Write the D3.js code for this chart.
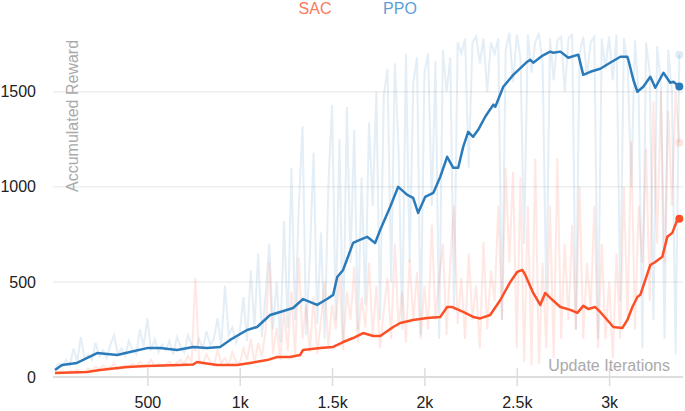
<!DOCTYPE html>
<html>
<head>
<meta charset="utf-8">
<script src="https://cdn.jsdelivr.net/npm/d3@7"></script>
<style>
  body { margin: 0; background: #fff; }
  svg { display: block; font-family: "Liberation Sans", Arial, Helvetica, sans-serif; }
</style>
</head>
<body>
<div id="chart"></div>
<script>
// chart size
const width = 685;
const height = 411;

// series names and tick labels
const seriesNames = ["SAC", "PPO"];
const yTicks = [0, 500, 1000, 1500];
const yTickLabels = ["0", "500", "1000", "1500"];
const xTicks = [500, 1000, 1500, 2000, 2500, 3000];
const xTickLabels = ["500", "1k", "1.5k", "2k", "2.5k", "3k"];

// smoothed curves: [iteration, reward]
const ppoSmooth = [
  [0,37],[38,63],[119,74],[228,126],[336,116],[406,131],[498,152],[569,152],[661,142],[748,158],
  [823,153],[894,158],[948,195],[1040,247],[1094,263],[1165,326],[1219,342],[1289,363],[1343,410],[1419,379],
  [1473,410],[1506,432],[1528,526],[1560,563],[1614,705],[1650,721],[1690,737],[1733,705],[1761,774],[1815,895],
  [1858,1000],[1907,958],[1939,942],[1966,863],[2004,947],[2048,968],[2086,1053],[2123,1158],[2156,1100],[2183,1100],
  [2210,1210],[2237,1289],[2264,1263],[2291,1300],[2330,1370],[2373,1432],[2384,1421],[2427,1526],[2481,1589],[2557,1658],
  [2573,1668],[2589,1653],[2640,1690],[2681,1711],[2698,1705],[2736,1711],[2779,1679],[2833,1695],[2860,1589],[2898,1605],
  [2952,1621],[3010,1655],[3061,1684],[3099,1684],[3104,1668],[3131,1563],[3153,1500],[3185,1526],[3223,1579],[3250,1521],
  [3294,1600],[3331,1547],[3348,1553],[3380,1527]
];
const sacSmooth = [
  [0,21],[173,26],[244,37],[390,53],[498,58],[677,63],[748,66],[769,79],[802,74],[878,63],
  [986,63],[1056,74],[1148,89],[1203,105],[1273,105],[1327,116],[1343,142],[1436,152],[1506,158],[1560,184],
  [1614,205],[1668,231],[1723,216],[1761,216],[1831,263],[1869,284],[1939,300],[2015,310],[2086,316],[2123,368],
  [2151,368],[2210,342],[2264,316],[2302,308],[2356,326],[2411,405],[2465,500],[2503,553],[2530,563],[2546,537],
  [2589,442],[2627,379],[2654,442],[2681,416],[2736,368],[2790,353],[2828,337],[2860,374],[2887,358],[2925,368],
  [2952,342],[3023,263],[3072,258],[3099,300],[3126,368],[3153,421],[3169,432],[3223,589],[3250,605],[3288,632],
  [3315,737],[3342,758],[3369,826],[3380,832]
];

// raw (unsmoothed) rewards, one value every 20 iterations
const rawStep = 20;
const ppoRaw = [
  40,70,55,90,60,150,80,210,95,120,
  90,180,110,140,100,170,220,120,150,110,
  190,140,120,250,160,310,140,200,130,170,
  140,190,120,210,160,130,220,170,140,200,
  150,240,170,200,310,160,480,220,260,180,
  230,420,190,560,260,650,210,430,700,250,
  500,180,820,260,1100,300,900,1320,220,640,
  1180,280,760,200,1000,1430,300,1250,180,1420,
  600,1300,250,1050,380,1340,900,1500,300,1480,
  1620,500,1650,1200,250,1700,600,1550,1680,220,
  1600,1700,900,1660,200,1720,1500,1680,350,1760,
  1700,1780,1100,1760,1790,1650,1780,1500,1760,1700,
  1780,300,1720,1810,1550,1800,1680,700,1800,1600,
  1760,1810,1650,400,1780,1560,1770,1790,1500,1780,
  1800,250,1700,1790,1580,1760,1790,200,1780,1620,
  1790,1560,1800,400,1780,1650,1000,1770,1480,150,
  1760,1600,300,1740,1550,200,1720,1500,120,1695
];
const sacRaw = [
  20,25,30,22,35,28,40,25,30,45,
  35,55,40,60,45,50,70,40,55,60,
  50,70,55,80,60,65,90,55,70,60,
  65,80,60,75,90,70,110,80,520,90,
  70,120,80,60,140,75,100,65,130,80,
  70,150,90,200,75,180,110,240,600,120,
  260,90,350,140,450,110,630,200,380,130,
  420,120,300,500,160,380,250,550,140,450,
  300,580,180,420,260,600,220,480,150,350,
  520,200,700,260,450,180,620,300,550,200,
  480,250,800,300,520,700,220,600,900,280,
  520,200,650,300,480,150,710,250,560,400,
  900,300,1100,600,1080,150,1050,80,900,60,
  1150,70,600,150,900,100,1150,200,700,300,
  800,250,1000,200,600,350,900,150,700,200,
  500,100,650,200,1000,300,1240,250,900,600,
  1200,400,1450,700,1500,600,1400,900,1500,1232
];

const colors = { PPO: "#2b7bba", SAC: "#fc4f26" };
const legendColors = { PPO: "#5a9fd5", SAC: "#fa7a5c" };

const svg = d3.select("#chart")
  .append("svg")
  .attr("width", width)
  .attr("height", height);

// scales
const x = d3.scaleLinear().domain([0, 3400]).range([55, 683]);
const y = d3.scaleLinear().domain([0, 1830]).range([377, 29]);

// grid lines
svg.append("g")
  .selectAll("line")
  .data(yTicks.filter(d => d > 0))
  .enter()
  .append("line")
  .attr("x1", 53)
  .attr("x2", 683)
  .attr("y1", d => y(d))
  .attr("y2", d => y(d))
  .attr("stroke", "#eeeeee")
  .attr("stroke-width", 1.5);

// y-axis labels
const yAxis = svg.append("g")
  .attr("transform", "translate(53,0)")
  .call(
    d3.axisLeft(y)
      .tickValues(yTicks)
      .tickFormat((d, i) => yTickLabels[i])
      .tickSize(0)
      .tickPadding(17)
  );
yAxis.select(".domain").remove();
yAxis.selectAll("text")
  .attr("font-size", "16px")
  .attr("font-family", "Liberation Sans, Arial, sans-serif")
  .attr("fill", "#222");

// x-axis
const xAxis = svg.append("g")
  .attr("transform", "translate(0," + y(0) + ")")
  .call(
    d3.axisBottom(x)
      .tickValues(xTicks)
      .tickFormat((d, i) => xTickLabels[i])
      .tickSize(9)
      .tickPadding(11)
  );
xAxis.select(".domain").remove();
xAxis.append("line")
  .attr("x1", 53)
  .attr("x2", 683)
  .attr("stroke", "#dddddd")
  .attr("stroke-width", 2);
xAxis.selectAll(".tick line")
  .attr("y1", -9)
  .attr("stroke", "#dddddd")
  .attr("stroke-width", 1.5);
xAxis.selectAll("text")
  .attr("font-size", "16px")
  .attr("font-family", "Liberation Sans, Arial, sans-serif")
  .attr("fill", "#222");

// raw lines
const rawLine = d3.line()
  .x((d, i) => x(i * rawStep))
  .y(d => y(d));

svg.append("path")
  .datum(ppoRaw)
  .attr("fill", "none")
  .attr("stroke", colors.PPO)
  .attr("stroke-opacity", 0.13)
  .attr("stroke-width", 2)
  .attr("d", rawLine);

svg.append("path")
  .datum(sacRaw)
  .attr("fill", "none")
  .attr("stroke", colors.SAC)
  .attr("stroke-opacity", 0.13)
  .attr("stroke-width", 2)
  .attr("d", rawLine);

// smoothed lines
const smoothLine = d3.line()
  .x(d => x(d[0]))
  .y(d => y(d[1]));

svg.append("path")
  .datum(ppoSmooth)
  .attr("fill", "none")
  .attr("stroke", colors.PPO)
  .attr("stroke-width", 2.5)
  .attr("stroke-linejoin", "round")
  .attr("d", smoothLine);

svg.append("path")
  .datum(sacSmooth)
  .attr("fill", "none")
  .attr("stroke", colors.SAC)
  .attr("stroke-width", 2.5)
  .attr("stroke-linejoin", "round")
  .attr("d", smoothLine);

// end markers
const lastRawX = (ppoRaw.length - 1) * rawStep;
svg.append("circle")
  .attr("cx", x(lastRawX))
  .attr("cy", y(ppoRaw[ppoRaw.length - 1]))
  .attr("r", 4)
  .attr("fill", colors.PPO)
  .attr("fill-opacity", 0.15);
svg.append("circle")
  .attr("cx", x(lastRawX))
  .attr("cy", y(sacRaw[sacRaw.length - 1]))
  .attr("r", 4)
  .attr("fill", colors.SAC)
  .attr("fill-opacity", 0.15);

const ppoLast = ppoSmooth[ppoSmooth.length - 1];
const sacLast = sacSmooth[sacSmooth.length - 1];
svg.append("circle")
  .attr("cx", x(ppoLast[0]))
  .attr("cy", y(ppoLast[1]))
  .attr("r", 4)
  .attr("fill", colors.PPO);
svg.append("circle")
  .attr("cx", x(sacLast[0]))
  .attr("cy", y(sacLast[1]))
  .attr("r", 4)
  .attr("fill", colors.SAC);

// axis titles
svg.append("text")
  .attr("transform", "translate(78,192) rotate(-90)")
  .attr("text-anchor", "start")
  .attr("font-size", "16px")
  .attr("fill", "#aaaaaa")
  .text("Accumulated Reward");

svg.append("text")
  .attr("x", 670)
  .attr("y", 371)
  .attr("text-anchor", "end")
  .attr("font-size", "16px")
  .attr("fill", "#aaaaaa")
  .text("Update Iterations");

// legend
const legendX = [315, 400];
svg.append("g")
  .selectAll("text")
  .data(seriesNames)
  .enter()
  .append("text")
  .attr("x", (d, i) => legendX[i])
  .attr("y", 14)
  .attr("text-anchor", "middle")
  .attr("font-size", "16px")
  .attr("fill", d => legendColors[d])
  .text(d => d);
</script>
</body>
</html>
